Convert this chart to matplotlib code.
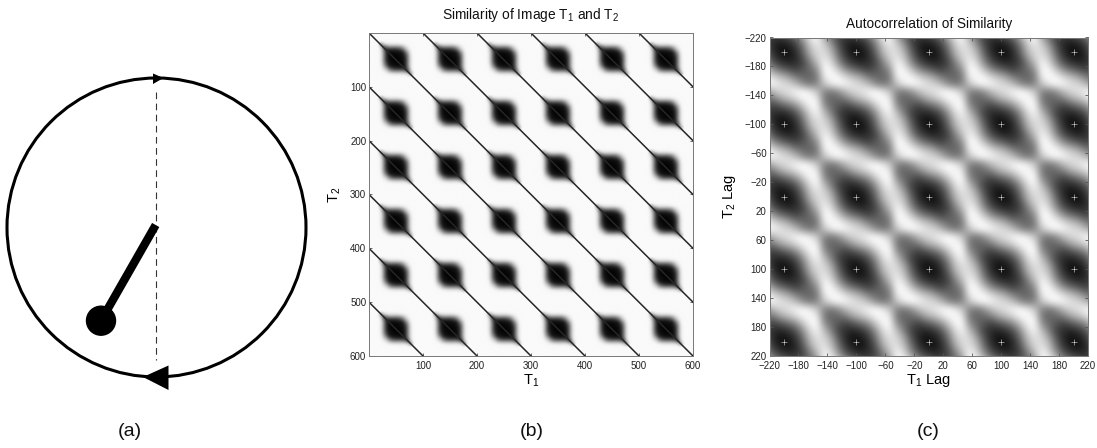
import numpy as np
import matplotlib
matplotlib.use("Agg")
import matplotlib.pyplot as plt
from matplotlib.patches import Circle, Polygon

plt.rcParams['font.family'] = ['Liberation Sans', 'DejaVu Sans']
plt.rcParams['mathtext.fontset'] = 'custom'
plt.rcParams['mathtext.rm'] = 'Liberation Sans'
plt.rcParams['mathtext.default'] = 'rm'

LARGURA, ALTURA = 1097, 448

# (b) dark blob of the similarity image, 5 units per cell, on a light background
sim_fundo = 250
sim_blob = [
    [110, 205, 225, 230, 230, 230, 230, 235, 240, 246, 250, 250],
    [205, 55, 115, 140, 140, 140, 140, 150, 175, 215, 238, 250],
    [225, 115, 30, 40, 42, 42, 48, 65, 105, 165, 220, 246],
    [230, 140, 40, 12, 10, 12, 14, 18, 32, 105, 175, 240],
    [230, 140, 42, 10, 6, 6, 8, 12, 20, 65, 150, 235],
    [230, 140, 42, 12, 6, 3, 4, 8, 14, 48, 140, 230],
    [230, 140, 48, 14, 8, 4, 3, 6, 12, 42, 140, 230],
    [235, 150, 65, 20, 12, 8, 6, 6, 10, 42, 140, 230],
    [240, 175, 105, 32, 18, 14, 12, 10, 12, 40, 140, 230],
    [246, 215, 165, 105, 65, 48, 42, 42, 40, 30, 115, 225],
    [250, 238, 220, 175, 150, 140, 140, 140, 140, 115, 55, 205],
    [250, 250, 246, 240, 235, 230, 230, 230, 230, 225, 205, 110],
]
sim_diagonais = [-500, -400, -300, -200, -100, 0, 100, 200, 300, 400, 500]
sim_ticks = [100, 200, 300, 400, 500, 600]

# (c) one period of the autocorrelation, 10 lag units per cell, peak in the middle
auto_tile = [
    [135, 120, 145, 190, 215, 225, 245, 252, 235, 195],
    [120, 100, 105, 125, 165, 190, 215, 245, 252, 235],
    [145, 105, 85, 65, 85, 108, 140, 195, 245, 252],
    [190, 125, 65, 45, 38, 50, 80, 140, 215, 245],
    [215, 165, 85, 38, 14, 24, 50, 108, 190, 225],
    [225, 190, 108, 50, 24, 14, 38, 85, 165, 215],
    [245, 215, 140, 80, 50, 38, 45, 65, 125, 190],
    [252, 245, 195, 140, 108, 85, 65, 85, 105, 145],
    [235, 252, 245, 215, 190, 165, 125, 105, 100, 120],
    [195, 235, 252, 245, 225, 215, 190, 145, 120, 135],
]
auto_ticks = [-220, -180, -140, -100, -60, -20, 20, 60, 100, 140, 180, 220]
peak_lags = [-200, -100, 0, 100, 200]

# (a) pendulum diagram, in picture pixels
centro_circulo = (156.5, 227.5)
raio_circulo = 149.5
tracejado_x = [156, 156]
tracejado_y = [92, 360]
haste_x = [155.7, 101]
haste_y = [225, 320.7]
bola_raio = 14.5
seta_grande = [(143, 377), (168.5, 365.5), (168.5, 390)]
seta_pequena = [(163.5, 78), (153, 73.5), (153, 84)]


def eixo_em_pixels(esq, topo, dir, base):
    return fig.add_axes([esq / LARGURA, 1 - base / ALTURA, (dir - esq) / LARGURA, (base - topo) / ALTURA])


def estilo_matlab(ax, ticks):
    ax.set_xticks(ticks)
    ax.set_yticks(ticks)
    ax.tick_params(direction='in', length=2.5, width=0.6, color='#555555', labelsize=7,
                   labelcolor='#222222', top=True, right=True)
    ax.tick_params(axis='x', pad=3.5)
    ax.tick_params(axis='y', pad=2)
    for s in ax.spines.values():
        s.set_linewidth(0.7)
        s.set_color('#777777')


fig = plt.figure(figsize=(LARGURA / 100, ALTURA / 100), dpi=100)

# Panel (a)
ax_a = fig.add_axes([0, 0, 1, 1])
ax_a.set_xlim(0, LARGURA)
ax_a.set_ylim(ALTURA, 0)
ax_a.axis('off')
ax_a.add_patch(Circle(centro_circulo, raio_circulo, fill=False, ec='black', lw=2.2))
ax_a.plot(tracejado_x, tracejado_y, color='#333333', lw=0.8, dashes=(6, 4))
ax_a.plot(haste_x, haste_y, color='black', lw=6, solid_capstyle='butt')
ax_a.add_patch(Circle((haste_x[1], haste_y[1]), bola_raio, color='black'))
ax_a.add_patch(Polygon(seta_grande, closed=True, color='black', lw=0))
ax_a.add_patch(Polygon(seta_pequena, closed=True, color='black', lw=0))

# Panel (b)
ax_b = eixo_em_pixels(369, 33, 693, 356)
sim_tile = np.pad(np.array(sim_blob), 4, constant_values=sim_fundo)
ax_b.imshow(np.tile(sim_tile, (6, 6)), cmap='gray', vmin=0, vmax=255,
            extent=[0, 600, 600, 0], interpolation='bicubic', aspect='auto')
for d in sim_diagonais:
    # the thin dark diagonals, T2 = T1 - d
    ax_b.plot([0, 600], [0 - d, 600 - d], color='#262626', lw=1.1)
ax_b.set_xlim(0, 600)
ax_b.set_ylim(600, 0)
estilo_matlab(ax_b, sim_ticks)
ax_b.set_title('Similarity of Image T$_1$ and T$_2$', fontsize=9.9, pad=10, color='#111111')
ax_b.set_xlabel('T$_1$', fontsize=10.5, labelpad=1)
ax_b.set_ylabel('T$_2$', fontsize=10.5, labelpad=5)

# Panel (c)
ax_c = eixo_em_pixels(769.5, 37.5, 1088, 356)
ax_c.imshow(np.tile(np.array(auto_tile), (5, 5)), cmap='gray', vmin=0, vmax=255,
            extent=[-250, 250, 250, -250], interpolation='bicubic', aspect='auto')
ax_c.set_xlim(-220, 220)
ax_c.set_ylim(220, -220)
px, py = np.meshgrid(peak_lags, peak_lags)
ax_c.plot(px.ravel(), py.ravel(), '+', color='white', ms=4.5, mew=0.4, alpha=0.85)
estilo_matlab(ax_c, auto_ticks)
ax_c.set_title('Autocorrelation of Similarity', fontsize=9.8, pad=6.5, color='#111111')
ax_c.set_xlabel('T$_1$ Lag', fontsize=10.5, labelpad=1)
ax_c.set_ylabel('T$_2$ Lag', fontsize=10.5, labelpad=5)

# (a) (b) (c) captions
for x, legenda in zip([130, 532, 928], ['(a)', '(b)', '(c)']):
    fig.text(x / LARGURA, 1 - 431 / ALTURA, legenda, ha='center', va='center', fontsize=14, color='#111111')

fig.savefig('out.png', dpi=100)
